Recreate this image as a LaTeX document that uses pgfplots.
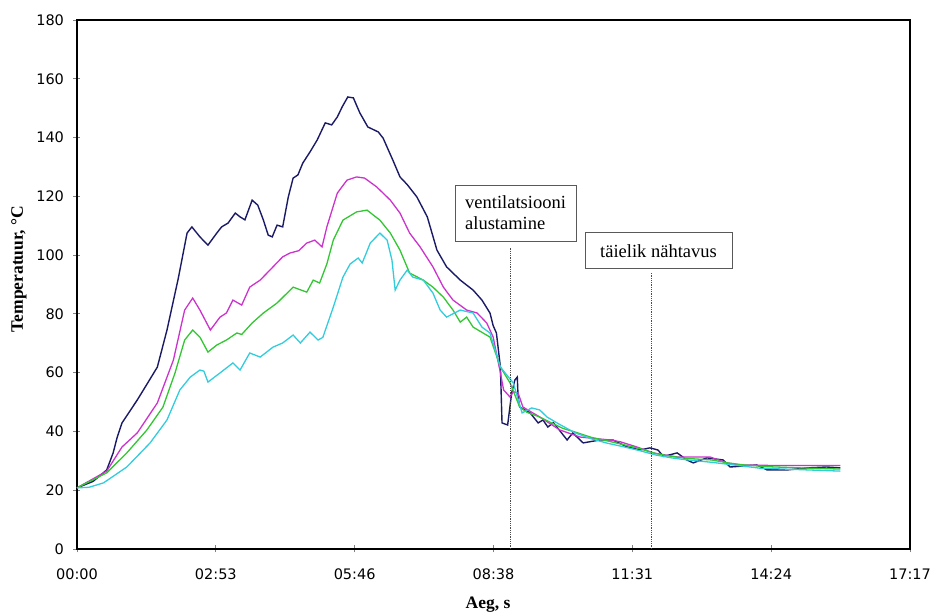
\documentclass[border=0pt]{standalone}
\usepackage{fontspec}
\setmainfont{Liberation Serif}
\newfontfamily\tickfont{DejaVu Sans}
\usepackage{pgfplots}
\pgfplotsset{compat=1.18}
\definecolor{cnavy}{HTML}{1A1A66}
\definecolor{cmag}{HTML}{CC33CC}
\definecolor{cgreen}{HTML}{33C633}
\definecolor{ccyan}{HTML}{33CCDD}
\begin{document}
\begin{tikzpicture}
\begin{axis}[
  at={(0,0)}, anchor=south west,
  scale only axis, width=833pt, height=529pt,
  xmin=0, xmax=1036.8, ymin=0, ymax=180,
  xtick={0,172.8,345.6,518.4,691.2,864,1036.8},
  xticklabels={00:00,02:53,05:46,08:38,11:31,14:24,17:17},
  ytick={0,20,...,180},
  tick align=center, major tick length=7pt,
  xtick pos=bottom, ytick pos=left,
  tick style={gray, line width=0.8pt},
  axis line style={black, line width=1.4pt},
  ticklabel style={font=\tickfont\fontsize{14.5}{17}\selectfont},
  /pgf/number format/assume math mode=true,
  yticklabel style={xshift=-6pt},
  xticklabel style={yshift=-13pt},
  xlabel={Aeg, s}, ylabel={Temperatuur, °C},
  xlabel style={font=\bfseries\fontsize{17.5}{20}\selectfont, at={(rel axis cs:0.4934,-0.106)}, anchor=center},
  ylabel style={font=\bfseries\fontsize{17.5}{20}\selectfont, at={(rel axis cs:-0.0696,0.529)}, anchor=center},
  clip=false,
]
% navy
\addplot[cnavy, line width=1.4pt] coordinates {
(0,20.8) (20,23) (37,26.9) (45,32.7) (50,38) (56,42.9) (75,50.7) (88,56.5) (100,61.9) (112,74.5)
(126,92) (137,107.5) (143,109.6) (153,106.2) (163,103.4) (174,107.5) (180,109.6) (188,110.9)
(197,114.3) (203,113) (209,112) (218,118.7) (225,117) (232,111.9) (238,106.8) (243,106.2)
(249,110.2) (256,109.6) (263,119.8) (269,126.2) (275,127.3) (281,131.3) (290,135.1) (299,139.2)
(309,145) (317,144.3) (324,147) (330,150.4) (337,153.8) (344,153.5) (352,148.4) (362,143.6)
(375,141.9) (381,139.8) (393,132.4) (402,126.6) (411,124) (423,119.8) (436,113) (448,101.7)
(460,96) (477,91.5) (493,88.1) (504,84.7) (514,80.3) (518,76) (522,73.5) (527,61.9) (529,42.9)
(536,42.2) (541,53.1) (545,57.5) (548,58.5) (549,51.7) (551,48.3) (564,46.3) (574,42.9)
(580,43.9) (586,41.5) (593,43) (610,37.1) (617,39.5) (630,36.1) (651,37.1) (667,37.1)
(685,34.7) (701,33.7) (713,34.4) (723,33.7) (730,31.5) (747,32.7) (759,30.3) (767,29.3)
(784,31) (804,30.3) (813,27.9) (846,28.6) (859,26.9) (884,26.9) (909,27.6) (933,27.9) (950,27.6)
};
% magenta
\addplot[cmag, line width=1.3pt] coordinates {
(0,20.8) (37,26.5) (56,34.7) (75,39.5) (100,49.7) (120,64.3) (134,81.3) (144,85.4) (153,81.3)
(166,74.5) (178,78.9) (186,80.3) (194,84.7) (205,83) (215,89.1) (228,91.5) (244,96) (256,99.4)
(265,100.7) (276,101.5) (286,104.1) (296,105.1) (305,102.8) (311,109.6) (324,121.1) (336,125.5)
(348,126.6) (358,126.2) (373,123.2) (390,118.7) (402,114.3) (414,107.5) (427,102.8) (443,96)
(456,89.1) (468,84.7) (485,81.3) (498,80.3) (510,76.9) (518,72.1) (527,59.9) (531,54.1)
(539,51.7) (543,53.5) (549,53.1) (555,48.3) (576,44.9) (601,40.5) (626,38.1) (663,37.1)
(676,36.5) (697,34.7) (717,32.7) (747,31.3) (788,31.3) (809,29.3) (825,28.6) (870,28.4) (950,28.4)
};
% green
\addplot[cgreen, line width=1.3pt] coordinates {
(0,20.8) (37,25.9) (62,32.7) (87,40.5) (107,48.3) (122,59.9) (134,71.1) (144,74.5) (153,72.1)
(163,67) (174,69.4) (186,71.1) (199,73.5) (205,73) (218,76.9) (232,80.3) (249,83.7) (269,89.1)
(286,87.4) (294,91.5) (302,90.5) (311,97) (319,105.1) (331,111.9) (348,114.7) (361,115.3)
(377,111.9) (390,107.5) (402,101.7) (414,93.9) (431,91.5) (443,89.1) (456,85.7) (468,81.3)
(477,77.2) (485,78.9) (493,75.5) (514,72.1) (527,61.9) (539,56.5) (551,48.3) (560,46.5)
(575,45) (590,43) (605,41) (620,39.8) (640,38) (660,36.8) (680,35.5) (700,34.2) (720,32.5)
(740,31.5) (760,30.8) (790,30.3) (810,29.3) (830,28.6) (860,28) (900,27.6) (950,27.2)
};
% cyan
\addplot[ccyan, line width=1.3pt] coordinates {
(0,20.8) (15,21) (33,22.5) (62,27.9) (91,36.1) (112,43.9) (128,54.1) (141,58.5) (153,60.9)
(158,60.5) (163,56.8) (178,59.9) (194,63.3) (203,60.9) (215,66.7) (228,65.3) (244,68.7)
(256,70.1) (269,72.8) (278,70.1) (290,73.8) (300,71.1) (306,72) (319,82.3) (331,92.5)
(340,97) (350,99) (355,97.3) (365,104.1) (377,107.5) (386,105.1) (392,98.3) (396,88.1)
(402,91.5) (411,94.9) (418,92.5) (431,91.5) (443,87.1) (452,81.3) (460,78.9) (477,81.3)
(493,80.3) (504,75.5) (514,73.5) (527,61.9) (543,56.5) (554,46.3) (566,48) (576,47.3)
(585,44.9) (600,42.5) (620,39.5) (640,37.5) (660,36) (680,34.8) (700,33.5) (720,32)
(740,31) (760,30.3) (790,29.5) (820,28.5) (850,27.5) (900,27) (950,26.5)
};
% event markers
\addplot[densely dotted, black!70, line width=0.8pt] coordinates {(539,0) (539,102.8)};
\addplot[densely dotted, black!70, line width=0.8pt] coordinates {(714.5,0) (714.5,93.9)};
\node[draw=black!65, line width=1pt, fill=white, align=left, minimum width=121pt, minimum height=56pt,
  inner sep=6pt, font=\fontsize{18.5}{21}\selectfont] at (axis cs:545.8,114.3)
  {ventilatsiooni\\alustamine};
\node[draw=black!65, line width=1pt, fill=white, minimum width=147pt, minimum height=36pt,
  inner sep=4pt, font=\fontsize{18.5}{21}\selectfont] at (axis cs:723.8,101.4)
  {täielik nähtavus};
\end{axis}
\pgfresetboundingbox
\path[use as bounding box] (-77pt,-66pt) rectangle (860pt,549pt);
\end{tikzpicture}
\end{document}
